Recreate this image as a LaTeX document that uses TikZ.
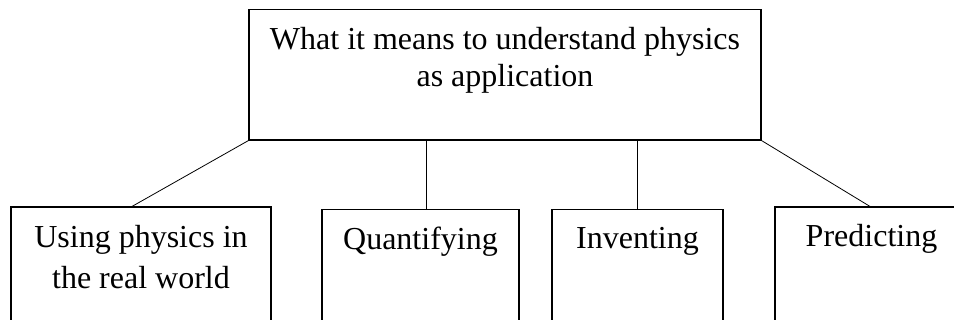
\documentclass[tikz,border=0pt]{standalone}
\usepackage{fontspec}
\setmainfont{Liberation Serif}
\begin{document}
\begin{tikzpicture}[x=1pt,y=-1pt,
		box/.style={draw,line width=1.1pt,inner sep=0pt},
		link/.style={line width=0.8pt},
		txt/.style={font=\fontsize{32}{37}\selectfont,align=center,inner sep=0pt,anchor=base}]
		\clip (0,0) rectangle (954,320);
		\node[box,minimum width=512pt,minimum height=130.5pt] (app) at (505,74.75) {};
		\node[box,minimum width=260pt,minimum height=140pt] (use) at (141,277) {};
		\node[box,minimum width=197pt,minimum height=140pt] (quant) at (420.5,279.5) {};
		\node[box,minimum width=171pt,minimum height=140pt] (invent) at (637.5,279.5) {};
		\node[box,minimum width=193pt,minimum height=140pt] (predict) at (871.5,277) {};
		% two-line texts sit on the baseline of their last line
		\node[txt] (appText) at ([yshift=-77.6pt]app.north) {What it means to understand physics\\as application};
		\node[txt,font=\fontsize{32}{40.7}\selectfont] (useText) at ([yshift=-82pt]use.north) {Using physics in\\the real world};
		\node[txt] (quantText) at ([yshift=-40.5pt]quant.north) {Quantifying};
		\node[txt] (inventText) at ([yshift=-40pt]invent.north) {Inventing};
		\node[txt] (predictText) at ([yshift=-40.3pt]predict.north) {Predicting};
		\coordinate (quantTop) at ([xshift=6.2pt]quant.north);
		\draw[link] (app.south west) -- ([xshift=-9pt]use.north);
		\draw[link] (app.south -| quantTop) -- (quantTop);
		\draw[link] (app.south -| invent.north) -- (invent.north);
		\draw[link] (app.south east) -- ([xshift=-1.5pt]predict.north);
\end{tikzpicture}
\end{document}
